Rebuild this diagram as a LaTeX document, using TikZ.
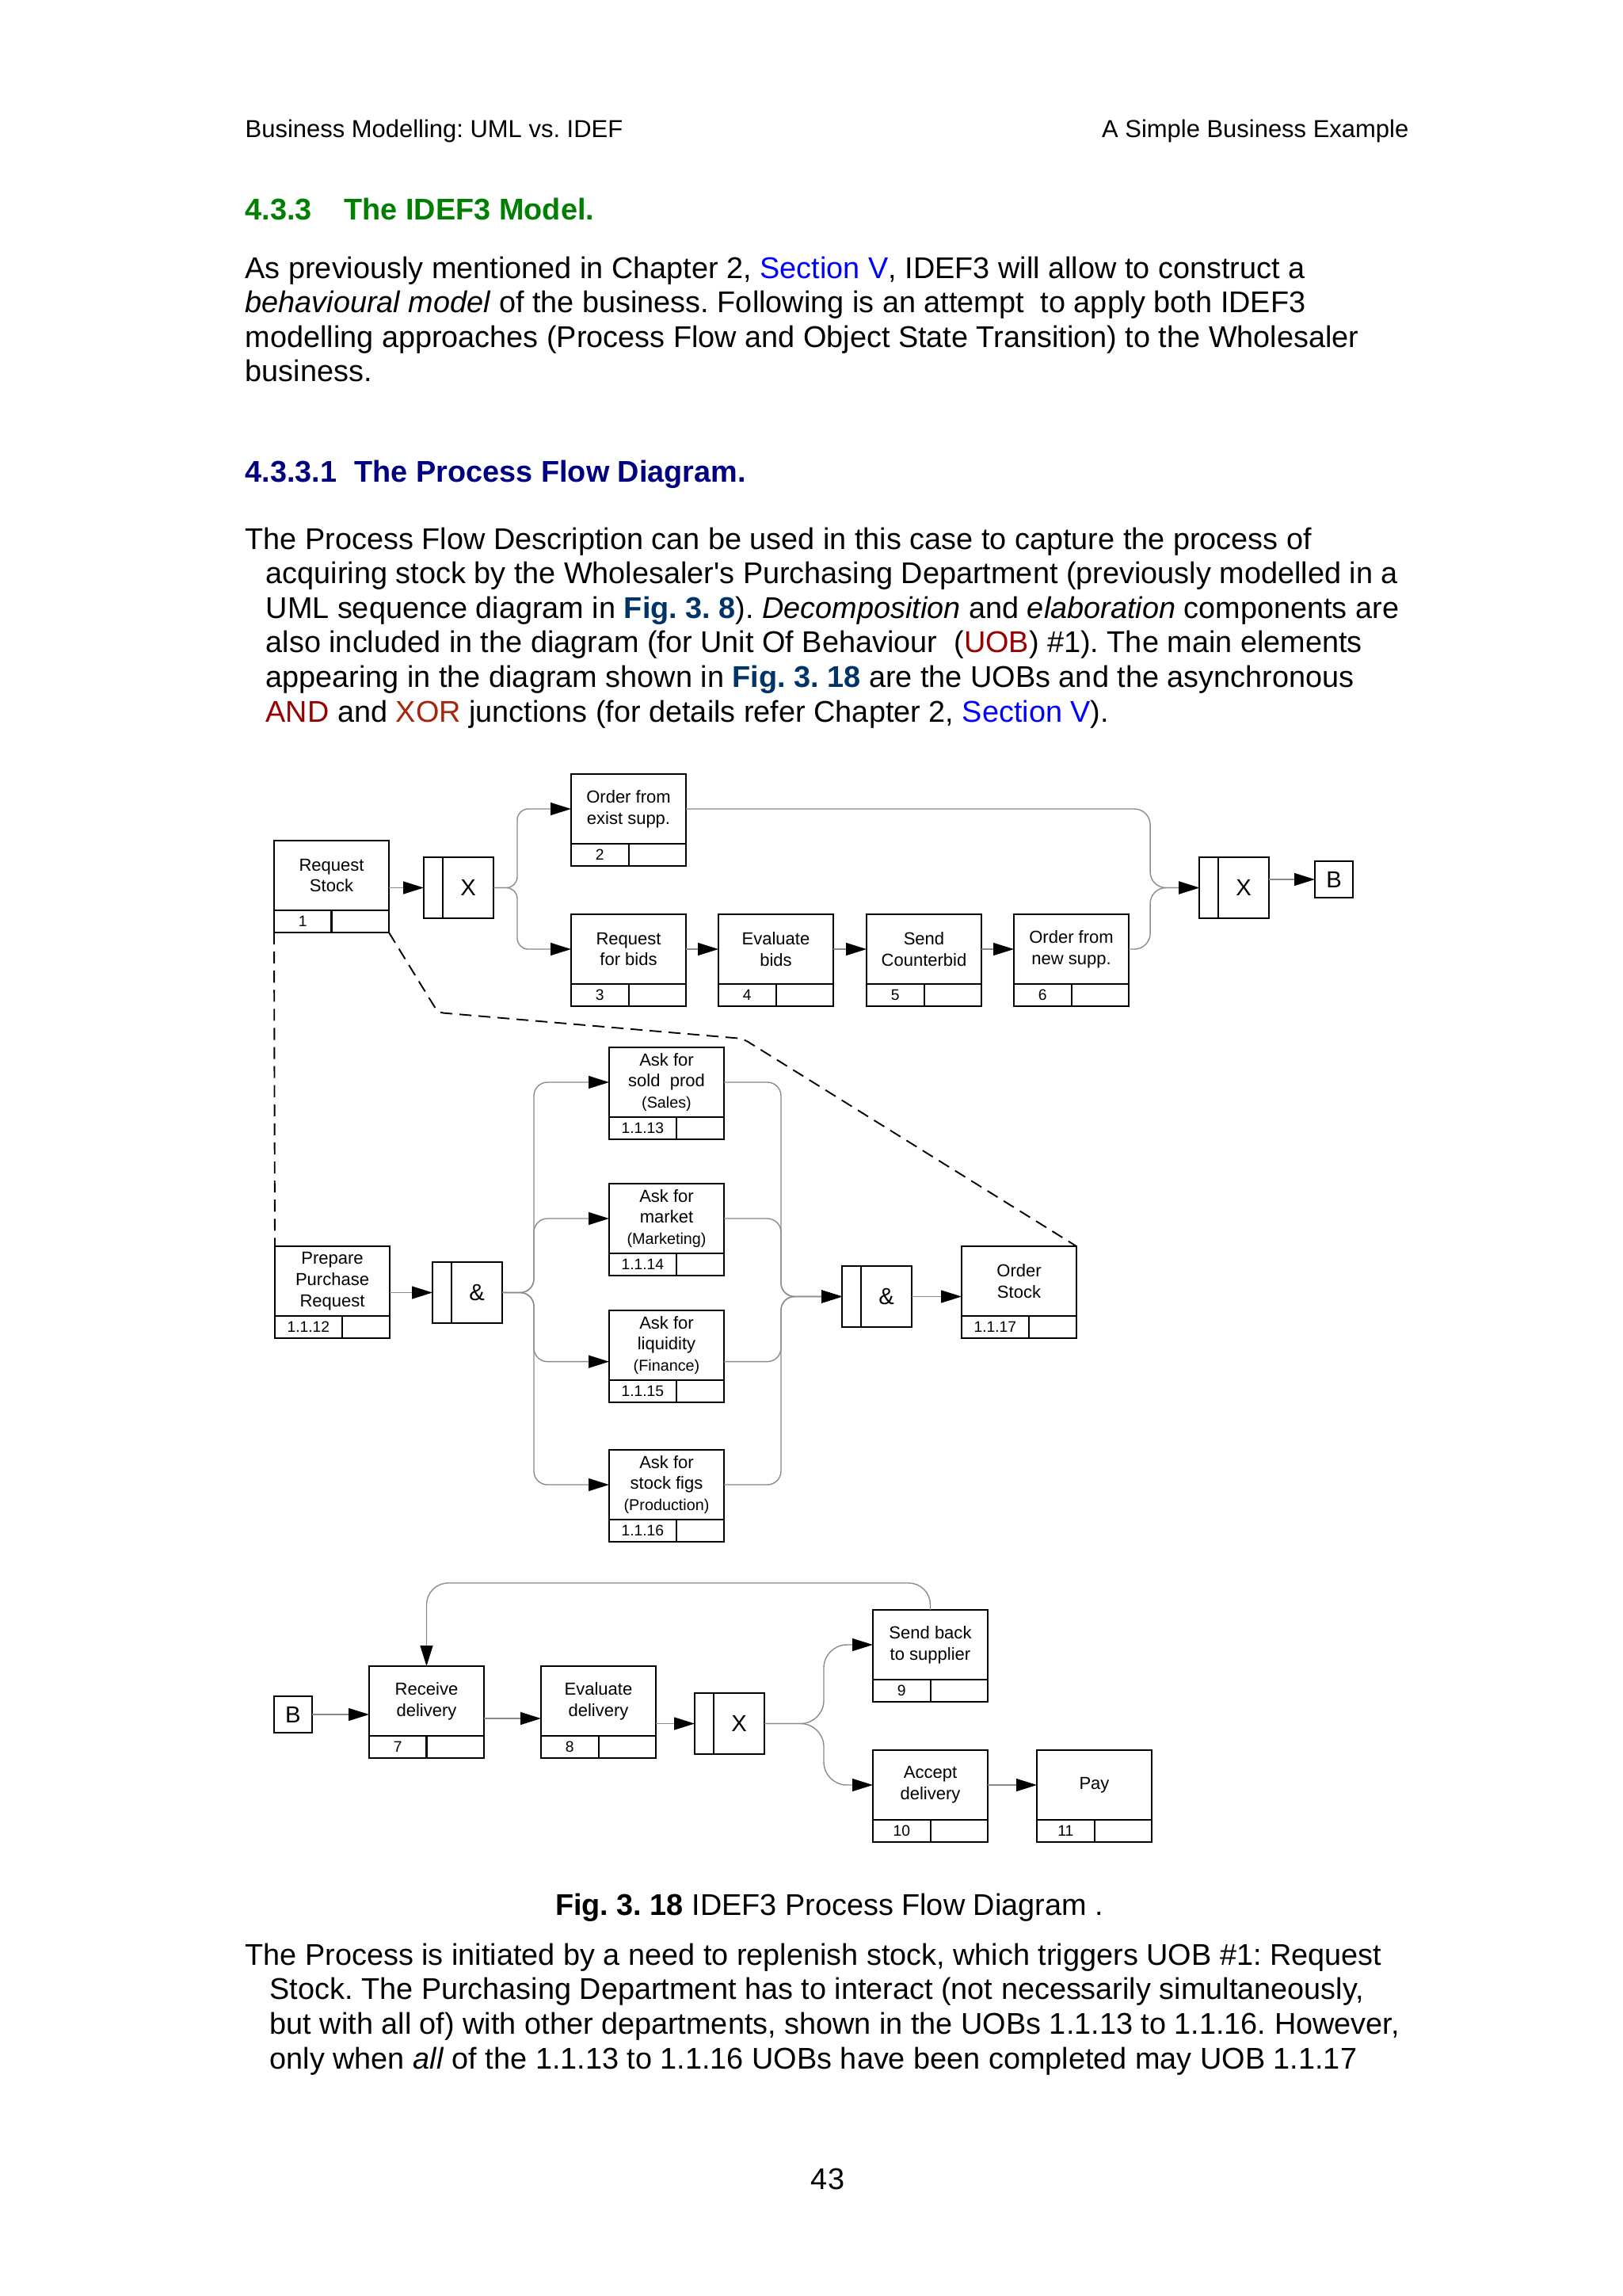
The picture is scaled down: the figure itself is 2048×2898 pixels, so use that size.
\documentclass[tikz,border=0pt]{standalone}
\usepackage{fontspec}
\setmainfont{Liberation Sans}
\newfontfamily\plainsans{Liberation Sans}
\usetikzlibrary{arrows.meta,calc}
\definecolor{hgreen}{HTML}{008000}
\definecolor{hnavy}{HTML}{000080}
\definecolor{lblue}{HTML}{0000FF}
\definecolor{fignavy}{HTML}{003366}
\definecolor{dred}{HTML}{990000}
\definecolor{xred}{HTML}{A8240A}
\definecolor{lgray}{HTML}{8A8A8A}
\newcommand{\uobfont}{\fontsize{6.4}{7.8}\selectfont}
\newcommand{\numfont}{\fontsize{5.6}{6.5}\selectfont}
\newcommand{\subfont}{\fontsize{5.75}{7.8}\selectfont}
\newcommand{\jfont}{\fontsize{8.5}{10}\selectfont}
\newcommand{\bodyfont}{\fontsize{11}{12.65}\selectfont}
\newcommand{\headfont}{\fontsize{9}{11}\selectfont}
\newcommand{\apos}{{\plainsans '}}
\frenchspacing
\tikzset{
  uobmain/.style={draw, line width=0.6pt, minimum width=42.15pt, minimum height=25.58pt,
    inner sep=0pt, outer sep=0pt, anchor=north west, align=center, font=\uobfont},
  uobcell/.style={draw, line width=0.6pt, minimum height=8.14pt, inner sep=0pt, outer sep=0pt,
    anchor=north west, font=\numfont},
  jcell/.style={draw, line width=0.6pt, minimum height=22.38pt, inner sep=0pt, outer sep=0pt,
    anchor=north west},
  refbox/.style={draw, line width=0.6pt, minimum width=13.95pt, minimum height=13.37pt,
    inner sep=0pt, outer sep=0pt, anchor=north west, font=\jfont},
  conn/.style={draw=lgray, line width=0.4pt, -{Triangle[length=7.5pt,width=4.6pt,color=black]}},
  dec/.style={draw=black, line width=0.55pt, dash pattern=on 4.4pt off 2.6pt},
  txt/.style={anchor=base west, inner sep=0pt, font=\bodyfont},
}
% UOB box: name, x, y (top-left, px), text, number, left cell width
\newcommand{\uob}[6]{%
  \node[uobmain] (#1) at (#2,#3) {#4};
  \node[uobcell, minimum width=#6] (#1n) at (#1.south west) {#5};
  \node[uobcell, minimum width=42.15pt-#6] (#1r) at (#1n.north east) {};
}
% junction: name, x, y (top-left, px), symbol
\newcommand{\junc}[4]{%
  \node[jcell, minimum width=6.98pt] (#1in) at (#2,#3) {};
  \node[jcell, minimum width=18.6pt, font=\jfont] (#1) at (#1in.north east) {#4};
}
\begin{document}
\begin{tikzpicture}[x=0.29066pt, y=-0.29066pt]
\fill[white] (0,0) rectangle (2048,2898);
\useasboundingbox (0,0) rectangle (2048,2898);

% ---------- page text ----------
\node[txt, font=\headfont] (hl) at (309,173) {Business Modelling: UML vs. IDEF};
\node[txt, font=\headfont, anchor=base east] (hr) at (1779,173) {A Simple Business Example};

\node[txt, text=hgreen, font=\bodyfont\bfseries] (s1n) at (309,277) {4.3.3};
\node[txt, text=hgreen, font=\bodyfont\bfseries] (s1t) at (434,277) {The IDEF3 Model.};

\node[txt] (p1a) at (309,351) {As previously mentioned in Chapter 2, \textcolor{lblue}{Section V}, IDEF3 will allow to construct a};
\node[txt] (p1b) at (309,394.6) {\textit{behavioural model} of the business. Following is an attempt\ \ to apply both IDEF3};
\node[txt] (p1c) at (309,438.2) {modelling approaches (Process Flow and Object State Transition) to the Wholesaler};
\node[txt] (p1d) at (309,481.8) {business.};

\node[txt, text=hnavy, font=\bodyfont\bfseries] (s2n) at (309,608) {4.3.3.1};
\node[txt, text=hnavy, font=\bodyfont\bfseries] (s2t) at (447,608) {The Process Flow Diagram.};

\node[txt] (p2a) at (309,693) {The Process Flow Description can be used in this case to capture the process of};
\node[txt] (p2b) at (335,736.6) {acquiring stock by the Wholesaler\apos s Purchasing Department (previously modelled in a};
\node[txt] (p2c) at (335,780.2) {UML sequence diagram in \textcolor{fignavy}{\textbf{Fig. 3. 8}}). \textit{Decomposition} and \textit{elaboration} components are};
\node[txt] (p2d) at (335,823.8) {also included in the diagram (for Unit Of Behaviour\ \ (\textcolor{dred}{UOB}) \#1). The main elements};
\node[txt] (p2e) at (335,867.4) {appearing in the diagram shown in \textcolor{fignavy}{\textbf{Fig. 3. 18}} are the UOBs and the asynchronous};
\node[txt] (p2f) at (335,911) {\textcolor{dred}{AND} and \textcolor{xred}{XOR} junctions (for details refer Chapter 2, \textcolor{lblue}{Section V}).};

\node[txt, anchor=base] (cap) at (1047,2417) {\textbf{Fig. 3. 18} IDEF3 Process Flow Diagram .};

\node[txt] (p3a) at (309,2480) {The Process is initiated by a need to replenish stock, which triggers UOB \#1: Request};
\node[txt] (p3b) at (340,2523.8) {Stock. The Purchasing Department has to interact (not necessarily simultaneously,};
\node[txt] (p3c) at (340,2567.6) {but with all of) with other departments, shown in the UOBs 1.1.13 to 1.1.16. However,};
\node[txt] (p3d) at (340,2611.4) {only when \textit{all} of the 1.1.13 to 1.1.16 UOBs have been completed may UOB 1.1.17};

\node[txt, anchor=base] (pgno) at (1045,2763) {43};

% ---------- top level ----------
\uob{rs}{346}{1061}{Request\\Stock}{1}{21.08pt}
\junc{ja}{535}{1082}{X}
\uob{b2}{721}{977}{Order from\\exist supp.}{2}{21.08pt}
\uob{b3}{721}{1154}{Request\\for bids}{3}{21.08pt}
\uob{b4}{907}{1154}{Evaluate\\bids}{4}{21.08pt}
\uob{b5}{1094}{1154}{Send\\Counterbid}{5}{21.08pt}
\uob{b6}{1280}{1154}{Order from\\new supp.}{6}{21.08pt}
\junc{jb}{1514}{1082}{X}
\node[refbox] (B1) at (1660,1087) {B};

\draw[conn] (rs.east |- jain.west) -- (jain.west);
\draw[conn, rounded corners=4pt] (ja.east) -- ++(30,0) |- (b2.west);
\draw[conn, rounded corners=4pt] (ja.east) -- ++(30,0) |- (b3.west);
\draw[conn] (b3.east) -- (b4.west);
\draw[conn] (b4.east) -- (b5.west);
\draw[conn] (b5.east) -- (b6.west);
\draw[conn, rounded corners=5.8pt] (b2.east) -| ([xshift=-18pt]jbin.west) -- (jbin.west);
\draw[conn, rounded corners=5.8pt] (b6.east) -| ([xshift=-18pt]jbin.west) -- (jbin.west);
\draw[conn] (jb.east |- B1.west) -- (B1.west);

% ---------- decomposition ----------
\uob{ppr}{347}{1573}{Prepare\\Purchase\\Request}{1.1.12}{24.6pt}
\junc{aa}{546}{1593}{\&}
\uob{q13}{769}{1322}{Ask for\\sold\ \ prod\\{\subfont (Sales)}}{1.1.13}{24.6pt}
\uob{q14}{769}{1494}{Ask for\\market\\{\subfont (Marketing)}}{1.1.14}{24.6pt}
\uob{q15}{769}{1654}{Ask for\\liquidity\\{\subfont (Finance)}}{1.1.15}{24.6pt}
\uob{q16}{769}{1830}{Ask for\\stock figs\\{\subfont (Production)}}{1.1.16}{24.6pt}
\junc{ab}{1063}{1598}{\&}
\uob{os}{1214}{1573}{Order\\Stock}{1.1.17}{24.6pt}

\coordinate (k1) at (553,1278);
\coordinate (k2) at (938,1311);
\draw[dec] (rsn.south west) -- (ppr.north west);
\draw[dec, rounded corners=2pt] (rsr.south east) -- (k1) -- (k2) -- (os.north east);

\draw[conn] (ppr.east |- aain.west) -- (aain.west);
\draw[conn, rounded corners=5pt] (aa.east) -- ++(40,0) |- (q13.west);
\draw[conn, rounded corners=5pt] (aa.east) -- ++(40,0) |- (q14.west);
\draw[conn, rounded corners=5pt] (aa.east) -- ++(40,0) |- ([yshift=-6pt]q15.west);
\draw[conn, rounded corners=5pt] (aa.east) -- ++(40,0) |- (q16.west);
\draw[conn, rounded corners=5pt] (q13.east) -| ([xshift=-22.4pt]abin.west) -- (abin.west);
\draw[conn, rounded corners=5pt] (q14.east) -| ([xshift=-22.4pt]abin.west) -- (abin.west);
\draw[conn, rounded corners=5pt] ([yshift=-6pt]q15.east) -| ([xshift=-22.4pt]abin.west) -- (abin.west);
\draw[conn, rounded corners=5pt] (q16.east) -| ([xshift=-22.4pt]abin.west) -- (abin.west);
\draw[conn] (ab.east) -- (os.west |- ab.east);

% ---------- after B ----------
\node[refbox] (B2) at (346,2141) {B};
\uob{rd}{466}{2103}{Receive\\delivery}{7}{21.08pt}
\uob{ed}{683}{2103}{Evaluate\\delivery}{8}{21.08pt}
\junc{jc}{877}{2137}{X}
\uob{sb}{1102}{2032}{Send back\\to supplier}{9}{21.08pt}
\uob{ad}{1102}{2209}{Accept\\delivery}{10}{21.08pt}
\uob{pay}{1309}{2209}{Pay}{11}{21.08pt}

\draw[conn] (B2.east) -- (rd.west |- B2.east);
\draw[conn] ([yshift=-6.4pt]rd.east) -- ([yshift=-6.4pt]ed.west);
\draw[conn] (ed.east |- jcin.west) -- (jcin.west);
\draw[conn, rounded corners=8.5pt] (jc.east) -- ++(75,0) |- (sb.west);
\draw[conn, rounded corners=8.5pt] (jc.east) -- ++(75,0) |- (ad.west);
\draw[conn] (ad.east) -- (pay.west);
\draw[conn, rounded corners=8pt] (sb.north) -- ++(0,-34) -| (rd.north);
\end{tikzpicture}
\end{document}
